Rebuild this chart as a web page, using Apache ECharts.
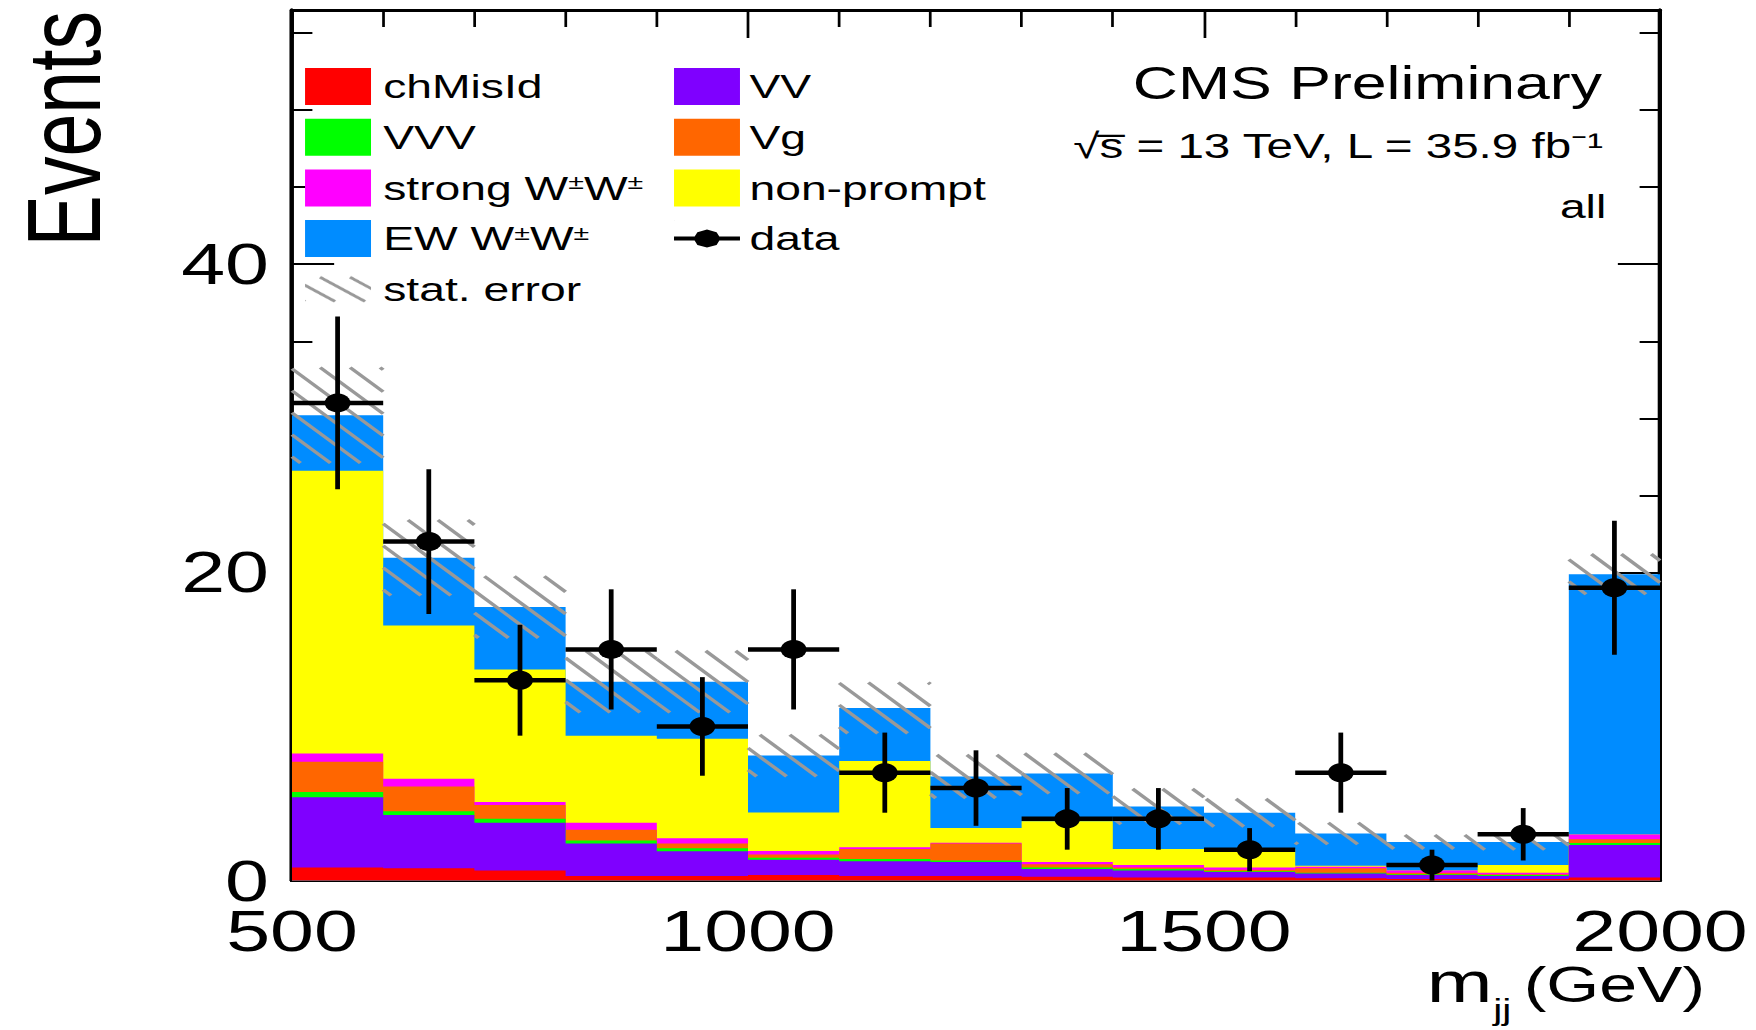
<!DOCTYPE html>
<html>
<head>
<meta charset="utf-8">
<title>CMS m_jj</title>
<script src="https://cdn.jsdelivr.net/npm/echarts@6/dist/echarts.min.js"></script>
<style>
  html, body { margin: 0; padding: 0; background: #fff; overflow: hidden; }
  /* the source plot is stretched sideways, so the chart is drawn narrow and widened as a whole */
  #chart { width: 1291px; height: 1030px; transform: scaleX(1.36); transform-origin: 0 0; }
</style>
</head>
<body>
<div id="chart"></div>
<script>
const binEdges = [500, 600, 700, 800, 900, 1000, 1100, 1200, 1300, 1400, 1500, 1600, 1700, 1800, 1900, 2000];

// backgrounds, bottom of the stack first
const chMisId   = [0.85, 0.8, 0.65, 0.3, 0.3, 0.35, 0.3, 0.3, 0.25, 0.2, 0.2, 0.15, 0.1, 0.1, 0.2];
const vv        = [4.55, 3.45, 3.1, 2.1, 1.6, 1.0, 0.95, 0.9, 0.5, 0.45, 0.35, 0.3, 0.25, 0.2, 2.1];
const vvv       = [0.35, 0.25, 0.25, 0.2, 0.2, 0.13, 0.15, 0.1, 0.1, 0.1, 0.05, 0.05, 0.05, 0.05, 0.13];
const vg        = [1.95, 1.6, 0.9, 0.7, 0.3, 0.2, 0.65, 1.1, 0.2, 0.1, 0.1, 0.3, 0.1, 0.05, 0.25];
const strongWW  = [0.55, 0.5, 0.2, 0.45, 0.35, 0.23, 0.1, 0.05, 0.15, 0.15, 0.15, 0.1, 0.15, 0.1, 0.3];
const nonPrompt = [18.35, 9.95, 8.6, 5.65, 6.45, 2.5, 5.6, 0.95, 2.65, 1.05, 1.2, 0.05, 0, 0.5, 0];
const ewWW      = [3.6, 4.4, 4.05, 3.5, 3.7, 3.7, 3.45, 3.35, 3.1, 2.75, 2.35, 2.1, 1.85, 1.5, 16.9];

const statErr    = [3.1, 2.45, 2.0, 2.0, 2.0, 1.35, 1.65, 1.4, 1.3, 1.15, 0.9, 0.7, 0.45, 0.5, 1.3];
const dataCounts = [31, 22, 13, 15, 10, 15, 7, 6, 4, 4, 2, 7, 1, 3, 19];
const dataErr    = [5.6, 4.7, 3.6, 3.9, 3.2, 3.9, 2.6, 2.45, 2.0, 2.0, 1.4, 2.6, 1.0, 1.7, 4.35];

// axis ranges and tick steps
const xRange = [500, 2000];
const xLabelStep = 500;
const xMinorStep = 100;
const yMax = 56.5;
const yLabelStep = 20;
const yMinorStep = 5;

const layerNames  = ['chMisId', 'VV', 'VVV', 'Vg', 'strong W±W±', 'non-prompt', 'EW W±W±'];
const layerValues = [chMisId, vv, vvv, vg, strongWW, nonPrompt, ewWW];
const layerColors = ['#ff0000', '#7f00ff', '#00ff00', '#ff6600', '#ff00ff', '#ffff00', '#008cff'];

const FONT = '"Liberation Sans", Arial, Helvetica, sans-serif';
const nBins = dataCounts.length;

// running sums so every layer can be filled from zero, back to front
const cumulative = [];
let run = new Array(nBins).fill(0);
layerValues.forEach(vals => {
  run = run.map((r, i) => r + vals[i]);
  cumulative.push(run);
});
const totals = cumulative[cumulative.length - 1];

function hatchIcon() {
  const cv = document.createElement('canvas');
  cv.width = 66;
  cv.height = 37;
  const g = cv.getContext('2d');
  g.strokeStyle = '#999';
  g.lineWidth = 3.5;
  for (let x = -45; x < 70; x += 30) {
    g.beginPath();
    g.moveTo(x, 2);
    g.lineTo(x + 45, 35);
    g.stroke();
  }
  return 'image://' + cv.toDataURL();
}

const dataIcon = 'path://M0,0L0.2,0L0,0.2Z M48.5,37L48.3,37L48.5,36.8Z M0,16.5L48.5,16.5L48.5,20.5L0,20.5Z ' +
  'M14.25,18.5L17.2,12.1L24.25,9.5L31.3,12.1L34.25,18.5L31.3,24.9L24.25,27.5L17.2,24.9Z';

const HATCH_STEP = 22;
function renderHatch(params, api) {
  const p0 = api.coord([api.value(0), api.value(3)]);
  const p1 = api.coord([api.value(1), api.value(2)]);
  const x0 = p0[0], y0 = p0[1], x1 = p1[0], y1 = p1[1];
  const lines = [];
  // lines y = x + c, on one grid for the whole plot
  const cStart = Math.ceil((y0 - x1) / HATCH_STEP) * HATCH_STEP;
  for (let c = cStart; c <= y1 - x0; c += HATCH_STEP) {
    const xa = Math.max(x0, y0 - c);
    const xb = Math.min(x1, y1 - c);
    if (xb - xa < 0.5) continue;
    lines.push({
      type: 'line',
      shape: { x1: xa, y1: xa + c, x2: xb, y2: xb + c },
      style: { stroke: '#999', lineWidth: 3 }
    });
  }
  return { type: 'group', children: lines };
}

function renderPoint(params, api) {
  const x = api.value(0), y = api.value(1), e = api.value(2);
  const c = api.coord([x, y]);
  const top = api.coord([x, y + e]);
  const bot = api.coord([x, Math.max(0, y - e)]);
  const left = api.coord([api.value(3), y]);
  const right = api.coord([api.value(4), y]);
  return {
    type: 'group',
    children: [
      { type: 'line', shape: { x1: c[0], y1: top[1], x2: c[0], y2: bot[1] }, style: { stroke: '#000', lineWidth: 3.5 } },
      { type: 'line', shape: { x1: left[0], y1: c[1], x2: right[0], y2: c[1] }, style: { stroke: '#000', lineWidth: 4.5 } },
      { type: 'circle', shape: { cx: c[0], cy: c[1], r: 9.5 }, style: { fill: '#000' } }
    ]
  };
}

const series = [];
for (let k = layerValues.length - 1; k >= 0; k--) {
  const tops = cumulative[k];
  series.push({
    name: layerNames[k],
    type: 'line',
    step: 'end',
    data: binEdges.map((x, i) => [x, tops[Math.min(i, nBins - 1)]]),
    symbol: 'none',
    silent: true,
    z: 2,
    itemStyle: { color: layerColors[k] },
    lineStyle: { width: 0, color: layerColors[k] },
    areaStyle: { color: layerColors[k], opacity: 1, origin: 'start' }
  });
}
series.push({
  name: 'stat. error',
  type: 'custom',
  z: 3,
  silent: true,
  itemStyle: { color: '#999' },
  encode: { x: [0, 1], y: [2, 3] },
  data: totals.map((t, i) => [binEdges[i], binEdges[i + 1], t - statErr[i], t + statErr[i]]),
  renderItem: renderHatch
});
series.push({
  name: 'data',
  type: 'custom',
  z: 4,
  silent: true,
  itemStyle: { color: '#000' },
  encode: { x: 0, y: 1 },
  data: dataCounts.map((d, i) => [(binEdges[i] + binEdges[i + 1]) / 2, d, dataErr[i], binEdges[i], binEdges[i + 1]]),
  renderItem: renderPoint
});

const axisLineStyle = { color: '#000', width: 3 };
const labelStyle = { fontFamily: FONT, fontSize: 58, lineHeight: 44, color: '#000', formatter: v => String(v) };

function xAxisDef(position, showLabel) {
  return {
    type: 'value', position, min: xRange[0], max: xRange[1], interval: xLabelStep,
    axisLine: { show: true, onZero: false, lineStyle: axisLineStyle },
    axisTick: { show: true, inside: true, length: 28, lineStyle: { color: '#000', width: 2 } },
    minorTick: { show: true, splitNumber: xLabelStep / xMinorStep, length: 17, lineStyle: { color: '#000', width: 2 } },
    axisLabel: Object.assign({ show: showLabel, margin: 28 }, labelStyle),
    splitLine: { show: false },
    minorSplitLine: { show: false }
  };
}

function yAxisDef(position, step, tickLen, showLabel) {
  return {
    type: 'value', position, min: 0, max: yMax, interval: step,
    axisLine: { show: true, onZero: false, lineStyle: axisLineStyle },
    axisTick: { show: true, inside: true, length: tickLen, lineStyle: { color: '#000', width: 2 } },
    axisLabel: Object.assign({ show: showLabel, margin: 17, showMaxLabel: false }, labelStyle),
    splitLine: { show: false }
  };
}

const legendText = {
  fontFamily: FONT, fontSize: 34, color: '#000',
  rich: { s: { fontFamily: FONT, fontSize: 21, lineHeight: 21, color: '#000', verticalAlign: 'top' } }
};
const legendBase = {
  orient: 'vertical', top: 68, padding: 0,
  itemWidth: 48.5, itemHeight: 37, itemGap: 13.7,
  icon: 'rect', symbolKeepAspect: false, selectedMode: false,
  itemStyle: { borderWidth: 0 },
  formatter: name => name.replace(/±/g, '{s|±}')
};

const chart = echarts.init(document.getElementById('chart'), null, { renderer: 'svg' });
chart.setOption({
  animation: false,
  backgroundColor: '#fff',
  grid: { left: 214.7, top: 10, width: 1005.9, height: 870.5, containLabel: false, outerBoundsMode: 'none', show: false },
  xAxis: [xAxisDef('bottom', true), xAxisDef('top', false)],
  yAxis: [
    yAxisDef('left', yLabelStep, 31, true),
    yAxisDef('left', yMinorStep, 15, false),
    yAxisDef('right', yLabelStep, 31, false),
    yAxisDef('right', yMinorStep, 15, false)
  ],
  legend: [
    Object.assign({}, legendBase, {
      left: 224.3,
      textStyle: Object.assign({ padding: [0, 0, 0, 4] }, legendText),
      data: ['chMisId', 'VVV', 'strong W±W±', 'EW W±W±', { name: 'stat. error', icon: hatchIcon() }]
    }),
    Object.assign({}, legendBase, {
      left: 495.6,
      textStyle: Object.assign({ padding: [0, 0, 0, 2] }, legendText),
      data: ['VV', 'Vg', 'non-prompt', { name: 'data', icon: dataIcon }]
    })
  ],
  title: [
    { text: 'CMS Preliminary', right: 113, top: 60, padding: 0,
      textStyle: { fontFamily: FONT, fontSize: 46, fontWeight: 'normal', color: '#000' } },
    { text: '√s\u0305 = 13 TeV, L = 35.9 fb⁻¹', right: 110, top: 128.5, padding: 0,
      textStyle: { fontFamily: FONT, fontSize: 35, fontWeight: 'normal', color: '#000' } },
    { text: 'all', right: 110, top: 189, padding: 0,
      textStyle: { fontFamily: FONT, fontSize: 34, fontWeight: 'normal', color: '#000' } }
  ],
  graphic: [
    { type: 'text', x: 47, y: 11, rotation: Math.PI / 2, silent: true,
      style: { text: 'Events', font: '77px ' + FONT, fill: '#000', align: 'right', verticalAlign: 'middle',
               textAlign: 'right', textVerticalAlign: 'middle' } },
    { type: 'text', x: 1049, y: 1011, silent: true,
      style: { text: 'm', font: '58px ' + FONT, fill: '#000', align: 'left', verticalAlign: 'bottom',
               textAlign: 'left', textVerticalAlign: 'bottom' } },
    { type: 'text', x: 1098, y: 1025, silent: true,
      style: { text: 'jj', font: '30px ' + FONT, fill: '#000', align: 'left', verticalAlign: 'bottom',
               textAlign: 'left', textVerticalAlign: 'bottom' } },
    { type: 'text', x: 1253.7, y: 1010, silent: true,
      style: { text: '(GeV)', font: '50px ' + FONT, fill: '#000', align: 'right', verticalAlign: 'bottom',
               textAlign: 'right', textVerticalAlign: 'bottom' } }
  ],
  series
});
</script>
</body>
</html>
